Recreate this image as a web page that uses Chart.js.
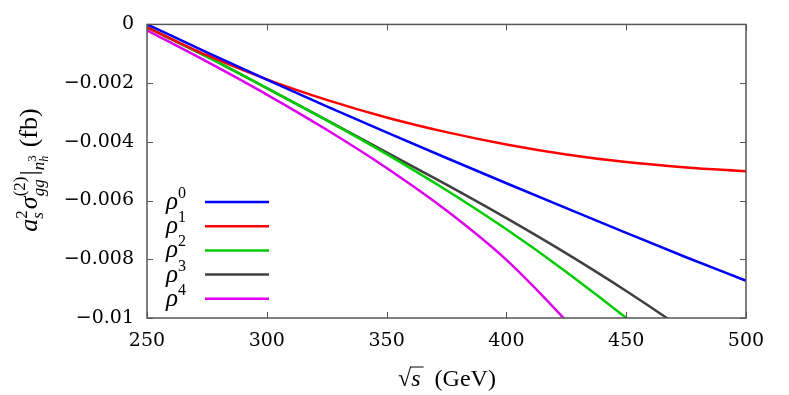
<!DOCTYPE html>
<html>
<head>
<meta charset="utf-8">
<script src="https://cdn.jsdelivr.net/npm/chart.js@4"></script>
<style>
  html, body { margin: 0; padding: 0; background: #fff; }
  #wrap { width: 789px; height: 395px; position: relative; }
</style>
</head>
<body>
<div id="wrap"><canvas id="chart"></canvas></div>
<script>
// ---------------------------------------------------------------
// DATA
// ---------------------------------------------------------------
const energies = [250, 275, 300, 325, 350, 375, 400, 425, 450, 475, 500];
const rho0 = [0, -0.00095, -0.00188, -0.00279, -0.00368, -0.00455, -0.00541, -0.00626, -0.0071, -0.00793, -0.00873];
const rho1 = [-0.0001, -0.00105, -0.00187, -0.00257, -0.00317, -0.00367, -0.00409, -0.00443, -0.00469, -0.00487, -0.005];
const rho2 = [-0.0001, -0.0011, -0.00217, -0.00327, -0.00442, -0.00565, -0.00698, -0.00843, -0.01, -0.0117, -0.0135];
const rho3 = [-0.0001, -0.0011, -0.00217, -0.00326, -0.00436, -0.00546, -0.0066, -0.0078, -0.00908, -0.01045, -0.0119];
const rho4 = [-0.0002, -0.00127, -0.00239, -0.00359, -0.00489, -0.00634, -0.00802, -0.0101, -0.0124, -0.015, -0.0178];

const seriesLabels = ["0", "1", "2", "3", "4"];
const seriesColors = ["#0000ff", "#ff0000", "#00cc00", "#404040", "#dd00ee"];
const xTicks = [250, 300, 350, 400, 450, 500];
const yTicks = [0, -0.002, -0.004, -0.006, -0.008, -0.01];

const FONT = "'Liberation Serif', 'DejaVu Serif', serif";
const TICK_FONT = "'DejaVu Serif', serif";

// ---------------------------------------------------------------
// rich text helper: runs drawn left to right, "stack" reuses the x of previous run
// ---------------------------------------------------------------
function drawRuns(ctx, runs, x0, y0, measureOnly) {
  let x = x0, last = x0, lastW = 0;
  runs.forEach(r => {
    ctx.font = (r.it ? "italic " : "") + r.size + "px " + FONT;
    const w = ctx.measureText(r.t).width;
    if (r.stack) {
      if (!measureOnly) ctx.fillText(r.t, last, y0 + (r.dy || 0));
      lastW = Math.max(w, lastW);
      x = last + lastW + (r.gap || 0);
    } else {
      last = x;
      lastW = w;
      if (!measureOnly) ctx.fillText(r.t, x, y0 + (r.dy || 0));
      x += w + (r.gap || 0);
    }
  });
  return x - x0;
}

const yTitleRuns = [
  { t: "a", it: true, size: 26 },
  { t: "2", size: 17, dy: -10 },
  { t: "s", it: true, size: 17, dy: 6, stack: true, gap: 1 },
  { t: "σ", it: true, size: 26 },
  { t: "(2)", size: 17, dy: -12 },
  { t: "gg", it: true, size: 17, dy: 7, stack: true, gap: 1 },
  { t: "|", size: 26 },
  { t: "n", it: true, size: 17, dy: 7 },
  { t: "3", size: 13, dy: -1 },
  { t: "h", it: true, size: 12, dy: 11, stack: true, gap: 8 },
  { t: "(fb)", size: 26 }
];

// ---------------------------------------------------------------
// PLUGIN: gnuplot style frame, inner ticks, titles, legend
// ---------------------------------------------------------------
const gnuplotDecor = {
  id: "gnuplotDecor",
  afterDatasetsDraw(chart) {
    const ctx = chart.ctx;
    const a = chart.chartArea;
    const xs = chart.scales.x, ys = chart.scales.y;
    ctx.save();

    // frame
    ctx.strokeStyle = "#555";
    ctx.lineWidth = 1.5;
    ctx.strokeRect(a.left, a.top, a.right - a.left, a.bottom - a.top);

    // inner ticks on all four sides
    ctx.lineWidth = 1;
    ctx.beginPath();
    xTicks.forEach(v => {
      const px = Math.round(xs.getPixelForValue(v)) + 0.5;
      ctx.moveTo(px, a.bottom); ctx.lineTo(px, a.bottom - 6);
      ctx.moveTo(px, a.top); ctx.lineTo(px, a.top + 6);
    });
    yTicks.forEach(v => {
      const py = Math.round(ys.getPixelForValue(v)) + 0.5;
      ctx.moveTo(a.left, py); ctx.lineTo(a.left + 6, py);
      ctx.moveTo(a.right, py); ctx.lineTo(a.right - 6, py);
    });
    ctx.stroke();

    // legend (text left, sample line right)
    ctx.fillStyle = "#000";
    ctx.textBaseline = "alphabetic";
    chart.data.datasets.forEach((ds, i) => {
      const yy = 202 + i * 24.2;
      drawRuns(ctx, [
        { t: "ρ", it: true, size: 25 },
        { t: seriesLabels[i], size: 16, dy: -11 }
      ], 166, yy + 7);
      ctx.strokeStyle = ds.borderColor;
      ctx.lineWidth = 2.5;
      ctx.beginPath();
      ctx.moveTo(205, yy);
      ctx.lineTo(269, yy);
      ctx.stroke();
    });

    // x title: sqrt(s) (GeV)
    ctx.fillStyle = "#000";
    ctx.font = "24px " + FONT;
    const sqW = ctx.measureText("√").width;
    ctx.font = "italic 24px " + FONT;
    const sW = ctx.measureText("s").width;
    ctx.font = "24px " + FONT;
    const restW = ctx.measureText("  (GeV)").width;
    const total = sqW + sW + 2 + restW;
    let xx = 447 - total / 2;
    const yb = 386;
    ctx.fillText("√", xx, yb);
    ctx.strokeStyle = "#000";
    ctx.lineWidth = 1;
    ctx.beginPath();
    ctx.moveTo(xx + sqW - 1, yb - 19);
    ctx.lineTo(xx + sqW + sW + 3, yb - 19);
    ctx.stroke();
    xx += sqW;
    ctx.font = "italic 24px " + FONT;
    ctx.fillText("s", xx, yb);
    xx += sW + 2;
    ctx.font = "24px " + FONT;
    ctx.fillText("  (GeV)", xx, yb);

    // y title rotated
    const w = drawRuns(ctx, yTitleRuns, 0, 0, true);
    ctx.translate(37, 170);
    ctx.rotate(-Math.PI / 2);
    drawRuns(ctx, yTitleRuns, -w / 2, 0);

    ctx.restore();
  }
};

// ---------------------------------------------------------------
// CHART
// ---------------------------------------------------------------
const allSeries = [rho0, rho1, rho2, rho3, rho4];

new Chart(document.getElementById("chart"), {
  type: "line",
  data: {
    datasets: allSeries.map((s, i) => ({
      label: "ρ" + seriesLabels[i],
      data: energies.map((e, j) => ({ x: e, y: s[j] })),
      borderColor: seriesColors[i],
      borderWidth: 2.5,
      pointRadius: 0,
      fill: false,
      cubicInterpolationMode: "monotone"
    }))
  },
  options: {
    responsive: true,
    maintainAspectRatio: false,
    animation: false,
    layout: { padding: { top: 24, right: 43, left: 0, bottom: 0 } },
    plugins: {
      legend: { display: false },
      tooltip: { enabled: false }
    },
    scales: {
      x: {
        type: "linear",
        min: 250,
        max: 500,
        afterBuildTicks(scale) { scale.ticks = xTicks.map(v => ({ value: v })); },
        afterFit(scale) { scale.height = 77; },
        grid: { display: false, drawTicks: false },
        border: { display: false },
        ticks: {
          padding: 12,
          color: "#000",
          font: { family: TICK_FONT, size: 19 },
          maxRotation: 0
        }
      },
      y: {
        type: "linear",
        min: -0.01,
        max: 0,
        afterBuildTicks(scale) { scale.ticks = yTicks.map(v => ({ value: v })); },
        afterFit(scale) { scale.width = 147; },
        grid: { display: false, drawTicks: false },
        border: { display: false },
        ticks: {
          padding: 13,
          color: "#000",
          font: { family: TICK_FONT, size: 19 },
          callback: v => v === 0 ? "0" : "\u2212" + parseFloat(Math.abs(v).toFixed(3))
        }
      }
    }
  },
  plugins: [gnuplotDecor]
});
</script>
</body>
</html>
